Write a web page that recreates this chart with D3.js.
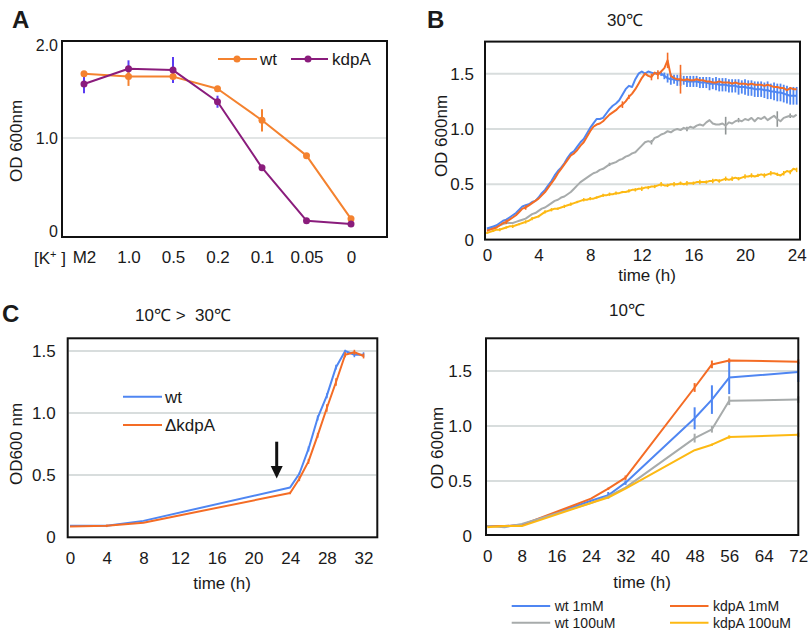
<!DOCTYPE html>
<html><head><meta charset="utf-8">
<script src="https://cdn.jsdelivr.net/npm/d3@7"></script>
<style>
body{margin:0;background:#fff;}
svg{font-family:"Liberation Sans",Arial,Helvetica,sans-serif;}
</style></head><body>
<svg id="c" width="810" height="630"></svg>
<script>
// ---------- Panel A data ----------
const aCats = ["M2","1.0","0.5","0.2","0.1","0.05","0"];
const aWt = [1.69, 1.66, 1.66, 1.53, 1.19, 0.81, 0.13];
const aWtSd = [0.0, 0.10, 0.0, 0.02, 0.12, 0.02, 0.02];
const aKdp = [1.58, 1.745, 1.73, 1.39, 0.68, 0.11, 0.075];
const aKdpSd = [0.10, 0.09, 0.14, 0.065, 0.02, 0.03, 0.03];
const aYTicks = [0, 1, 2];
const aYLabels = ["0", "1.0", "2.0"];

// ---------- Panel B data (30°C, every 15 min, 0–24 h) ----------
const bStep = 0.25;
const bWt1 = [0.10,0.11,0.12,0.13, 0.15,0.17,0.18,0.20, 0.22,0.24,0.27,0.30, 0.31,0.32,0.34,0.35,
  0.38,0.42,0.45,0.49, 0.53,0.58,0.62,0.65, 0.69,0.74,0.78,0.80, 0.84,0.88,0.91,0.96,
  1.01,1.05,1.09,1.09, 1.10,1.14,1.18,1.21, 1.23,1.26,1.31,1.36, 1.39,1.38,1.45,1.50,
  1.52,1.50,1.52,1.51, 1.50,1.51,1.50,1.48, 1.46,1.45,1.45,1.44, 1.44,1.44,1.43,1.43,
  1.43,1.43,1.42,1.42, 1.42,1.41,1.41,1.41, 1.40,1.40,1.40,1.39, 1.39,1.39,1.38,1.38,
  1.38,1.37,1.37,1.36, 1.36,1.36,1.35,1.35, 1.34,1.34,1.33,1.33, 1.32,1.31,1.30,1.30, 1.30];
const bWt1SdStart = 13.5;
const bWt1Sd = [0.02,0.03, 0.04,0.05,0.04,0.05, 0.05,0.04,0.05,0.05, 0.05,0.05,0.05,0.05,
  0.05,0.06,0.05,0.06, 0.06,0.06,0.06,0.06, 0.06,0.06,0.07,0.06, 0.07,0.07,0.07,0.07,
  0.07,0.07,0.07,0.08, 0.07,0.08,0.08,0.08, 0.08,0.08,0.08,0.08, 0.08];
const bKdp1 = [0.08,0.09,0.10,0.11, 0.13,0.15,0.16,0.18, 0.20,0.22,0.25,0.28, 0.29,0.31,0.33,0.35,
  0.37,0.40,0.43,0.47, 0.51,0.55,0.60,0.64, 0.68,0.72,0.76,0.78, 0.81,0.85,0.88,0.93,
  0.98,1.02,1.04,1.05, 1.07,1.10,1.13,1.15, 1.17,1.20,1.22,1.25, 1.29,1.32,1.36,1.41,
  1.46,1.50,1.48,1.47, 1.51,1.49,1.52,1.55, 1.62,1.48,1.46,1.45, 1.45,1.44,1.45,1.44,
  1.44,1.45,1.44,1.44, 1.43,1.43,1.42,1.42, 1.43,1.42,1.42,1.42, 1.41,1.42,1.41,1.41,
  1.41,1.40,1.41,1.40, 1.40,1.40,1.39,1.40, 1.39,1.38,1.38,1.37, 1.37,1.35,1.37,1.36, 1.36];
const bKdp1Sd = [[1.5,0.02],[3.0,0.02],[10.5,0.03],[11.0,0.02],[12.75,0.03],[13.25,0.04],[14.0,0.07],[15.0,0.13]];
const bWt100 = [0.09,0.10,0.11,0.12, 0.13,0.14,0.15,0.15, 0.15,0.16,0.17,0.18, 0.19,0.21,0.23,0.24,
  0.26,0.28,0.29,0.31, 0.33,0.35,0.36,0.38, 0.39,0.41,0.43,0.46, 0.49,0.52,0.54,0.56,
  0.58,0.60,0.61,0.63, 0.64,0.66,0.68,0.69, 0.70,0.72,0.73,0.75, 0.76,0.78,0.79,0.82,
  0.85,0.88,0.89,0.88, 0.92,0.93,0.95,0.96, 0.98,0.97,0.99,1.00, 0.99,1.01,1.00,1.02,
  1.01,1.03,1.04,1.03, 1.06,1.08,1.05,1.04, 1.04,1.05,1.03,1.06, 1.05,1.07,1.08,1.07,
  1.09,1.08,1.10,1.07, 1.10,1.09,1.11,1.08, 1.10,1.12,1.09,1.07, 1.10,1.11,1.12,1.11, 1.13];
const bWt100Sd = [[9.5,0.015],[12.75,0.02],[15.5,0.02],[18.5,0.08],[19.5,0.02],[22.5,0.07],[23.5,0.02]];
const bKdp100 = [0.06,0.07,0.08,0.09, 0.09,0.10,0.11,0.12, 0.12,0.13,0.14,0.15, 0.16,0.17,0.19,0.20,
  0.21,0.23,0.25,0.26, 0.27,0.28,0.28,0.29, 0.30,0.31,0.32,0.33, 0.34,0.35,0.36,0.36,
  0.37,0.37,0.38,0.39, 0.40,0.40,0.41,0.41, 0.42,0.42,0.43,0.43, 0.44,0.45,0.45,0.46,
  0.46,0.47,0.47,0.48, 0.48,0.49,0.50,0.49, 0.49,0.50,0.50,0.50, 0.51,0.50,0.51,0.51,
  0.51,0.52,0.52,0.52, 0.52,0.53,0.53,0.54, 0.53,0.54,0.55,0.54, 0.55,0.56,0.55,0.56,
  0.57,0.57,0.58,0.57, 0.58,0.59,0.58,0.59, 0.60,0.60,0.59,0.58, 0.60,0.62,0.61,0.64, 0.63];
// sd every 30 min
const bKdp100Sd = [0.01,0.01,0.015,0.01,0.015,0.01,0.015,0.015,0.01,0.015,0.015,0.01,0.015,0.015,0.01,0.015,
  0.015,0.01,0.015,0.015,0.015,0.01,0.015,0.015,0.02,0.015,0.015,0.02,0.015,0.02,0.015,0.02,
  0.015,0.02,0.015,0.02,0.015,0.02,0.02,0.015,0.02,0.02,0.015,0.02,0.02,0.015,0.02,0.02,0.02];
const bXTicks = [0,4,8,12,16,20,24];
const bYTicks = [0,0.5,1,1.5];
const bYLabels = ["0","0.5","1.0","1.5"];

// ---------- Panel C data (10°C > 30°C) ----------
const cTime = [0,4,8,24,25,26,27,28,29,30,31,32];
const cWt = [0.09,0.09,0.13,0.40,0.51,0.71,0.96,1.14,1.37,1.50,1.47,1.47];
const cWtSd = [0,0,0,0,0.01,0.02,0.02,0.02,0.02,0.01,0.02,0.02];
const cKdp = [0.085,0.09,0.115,0.355,0.47,0.61,0.82,1.04,1.25,1.47,1.49,1.46];
const cKdpSd = [0,0.01,0,0.01,0.02,0.02,0.02,0.03,0.03,0.02,0.02,0.02];
const cXTicks = [0,4,8,12,16,20,24,28,32];
const cYTicks = [0,0.5,1,1.5];
const cYLabels = ["0","0.5","1.0","1.5"];

// ---------- Panel D data (10°C) ----------
const dTime = [0,4,8,24,28,32,48,52,56,72];
const dWt1 = [0.09,0.09,0.10,0.32,0.37,0.485,1.07,1.24,1.44,1.49];
const dWt1Sd = [0,0,0,0,0.03,0.02,0.10,0.13,0.15,0.09];
const dKdp1 = [0.09,0.09,0.10,0.34,0.43,0.53,1.35,1.56,1.595,1.585];
const dKdp1Sd = [0,0,0,0,0.01,0.02,0.04,0.035,0.02,0.02];
const dWt100 = [0.09,0.08,0.11,0.30,0.36,0.44,0.89,0.97,1.23,1.24];
const dWt100Sd = [0,0,0,0,0,0,0.04,0.03,0.04,0.03];
const dKdp100 = [0.08,0.09,0.09,0.30,0.35,0.43,0.78,0.83,0.90,0.92];
const dKdp100Sd = [0,0,0,0,0,0,0,0.01,0.015,0.02];
const dXTicks = [0,8,16,24,32,40,48,56,64,72];
const dYTicks = [0,0.5,1,1.5];
const dYLabels = ["0","0.5","1.0","1.5"];

// ---------- colours ----------
const C_BLUE = "#4f86f2", C_ORANGE = "#f46c25", C_GRAY = "#a7abab", C_YELLOW = "#fdb913";
const A_ORANGE = "#f4822f", A_PURPLE = "#8a1c7c", A_ERRBLUE = "#5a3cf2";
const GRID = "#d8dddd";
const FONT = '"Liberation Sans", Arial, Helvetica, sans-serif';

const svg = d3.select("#c");

function frame(g, x0, y0, x1, y1) {
  g.append("rect").attr("x", x0).attr("y", y0).attr("width", x1 - x0).attr("height", y1 - y0)
    .attr("fill", "none").attr("stroke", "#111").attr("stroke-width", 2);
}
function grid(g, y, vals, x0, x1, w) {
  g.selectAll(null).data(vals).enter().append("line")
    .attr("x1", x0).attr("x2", x1).attr("y1", d => y(d)).attr("y2", d => y(d))
    .attr("stroke", GRID).attr("stroke-width", w || 2);
}
function yAxis(g, scale, x, vals, labels, size, pad) {
  const a = g.append("g").attr("transform", `translate(${x},0)`)
    .call(d3.axisLeft(scale).tickValues(vals).tickSize(0).tickPadding(pad).tickFormat((d, i) => labels[i]));
  a.attr("font-family", FONT).attr("font-size", size);
  a.select(".domain").remove();
  a.selectAll("text").attr("fill", "#1a1a1a");
  return a;
}
function xAxis(g, scale, y, vals, size, pad, fmt) {
  const ax = d3.axisBottom(scale).tickSize(0).tickPadding(pad);
  if (vals) ax.tickValues(vals);
  if (fmt) ax.tickFormat(fmt);
  const a = g.append("g").attr("transform", `translate(0,${y})`).call(ax);
  a.attr("font-family", FONT).attr("font-size", size);
  a.select(".domain").remove();
  a.selectAll("text").attr("fill", "#1a1a1a");
  return a;
}
function text(g, x, y, s, size, opts) {
  opts = opts || {};
  const t = g.append("text").attr("x", x).attr("y", y).attr("font-size", size)
    .attr("fill", opts.fill || "#1a1a1a").attr("text-anchor", opts.anchor || "middle")
    .attr("font-weight", opts.bold ? "bold" : null).style("white-space", "pre").text(s);
  if (opts.rotate) t.attr("transform", `rotate(-90,${x},${y})`);
  return t;
}
function errBars(g, pts, x, y, color, w) {
  g.selectAll(null).data(pts.filter(p => p.sd > 0)).enter().append("line")
    .attr("x1", p => x(p.t)).attr("x2", p => x(p.t))
    .attr("y1", p => y(p.v - p.sd)).attr("y2", p => y(p.v + p.sd))
    .attr("stroke", color).attr("stroke-width", w || 1.6);
}
function path(g, pts, x, y, color, w) {
  g.append("path").datum(pts)
    .attr("d", d3.line().x(p => x(p.t)).y(p => y(p.v)))
    .attr("fill", "none").attr("stroke", color).attr("stroke-width", w || 2)
    .attr("stroke-linejoin", "round");
}

// ================= Panel A =================
{
  const g = svg.append("g");
  const x = d3.scalePoint().domain(aCats).range([84, 351]);
  const y = d3.scaleLinear().domain([-0.065, 2.043]).range([237, 41]);
  grid(g, y, [1], 63, 386, 1.5);
  yAxis(g, y, 62, aYTicks, aYLabels, 16, 4);
  xAxis(g, x, 237, null, 17, 14);
  const t = text(g, 66, 264, "", 17, { anchor: "end" });
  t.append("tspan").text("[K");
  t.append("tspan").attr("font-size", 11).attr("dy", -6).text("+");
  t.append("tspan").attr("dy", 6).text(" ]");
  const wt = aCats.map((c, i) => ({ t: c, v: aWt[i], sd: aWtSd[i] }));
  const kd = aCats.map((c, i) => ({ t: c, v: aKdp[i], sd: aKdpSd[i] }));
  errBars(g, kd, x, y, A_ERRBLUE, 2);
  errBars(g, wt, x, y, A_ORANGE, 2);
  path(g, wt, x, y, A_ORANGE, 2);
  path(g, kd, x, y, A_PURPLE, 2);
  g.selectAll(null).data(wt).enter().append("circle").attr("cx", p => x(p.t)).attr("cy", p => y(p.v)).attr("r", 3.5).attr("fill", A_ORANGE);
  g.selectAll(null).data(kd).enter().append("circle").attr("cx", p => x(p.t)).attr("cy", p => y(p.v)).attr("r", 3.5).attr("fill", A_PURPLE);
  frame(g, 62, 41, 387, 237);
  // legend
  g.append("line").attr("x1", 218).attr("x2", 257).attr("y1", 59).attr("y2", 59).attr("stroke", A_ORANGE).attr("stroke-width", 2);
  g.append("circle").attr("cx", 237).attr("cy", 59).attr("r", 3.5).attr("fill", A_ORANGE);
  text(g, 260, 65, "wt", 17, { anchor: "start" });
  g.append("line").attr("x1", 291).attr("x2", 328).attr("y1", 59).attr("y2", 59).attr("stroke", A_PURPLE).attr("stroke-width", 2);
  g.append("circle").attr("cx", 308).attr("cy", 59).attr("r", 3.5).attr("fill", A_PURPLE);
  text(g, 332, 65, "kdpA", 17, { anchor: "start" });
  text(g, 16, 141, "OD 600nm", 17, { rotate: true, anchor: "middle" }).attr("dy", "0.35em");
  text(g, 12, 28, "A", 24, { anchor: "start", bold: true });
}

// ================= Panel B =================
{
  const g = svg.append("g");
  const x = d3.scaleLinear().domain([-0.15, 24.26]).range([485, 800]);
  const y = d3.scaleLinear().domain([0, 1.79]).range([239.6, 41.6]);
  grid(g, y, [0.5, 1, 1.5], 486, 799, 2);
  yAxis(g, y, 485, bYTicks, bYLabels, 17, 11);
  xAxis(g, x, 239.5, bXTicks, 17, 9);
  const mk = (arr) => arr.map((v, i) => ({ t: i * bStep, v: v, sd: 0 }));
  const wt1 = mk(bWt1), kd1 = mk(bKdp1), wt100 = mk(bWt100), kd100 = mk(bKdp100);
  const startIdx = Math.round(bWt1SdStart / bStep);
  bWt1Sd.forEach((s, i) => { wt1[startIdx + i].sd = s; });
  bKdp1Sd.forEach(([t, s]) => { kd1[Math.round(t / bStep)].sd = s; });
  bWt100Sd.forEach(([t, s]) => { wt100[Math.round(t / bStep)].sd = s; });
  bKdp100Sd.forEach((s, i) => { kd100[i * 2].sd = s; });
  errBars(g, kd100, x, y, C_YELLOW, 1.5);
  path(g, kd100, x, y, C_YELLOW, 2);
  errBars(g, wt100, x, y, "#8f9494", 1.6);
  path(g, wt100, x, y, C_GRAY, 2);
  errBars(g, wt1, x, y, C_BLUE, 1.8);
  path(g, wt1, x, y, C_BLUE, 2);
  errBars(g, kd1, x, y, C_ORANGE, 1.6);
  path(g, kd1, x, y, C_ORANGE, 2);
  frame(g, 485, 41.6, 800, 239.6);
  text(g, 625, 26, "30℃", 17);
  text(g, 427, 28, "B", 24, { anchor: "start", bold: true });
  text(g, 441, 136, "OD 600nm", 17, { rotate: true }).attr("dy", "0.35em");
  text(g, 647, 281, "time (h)", 17);
}

// ================= Panel C =================
{
  const g = svg.append("g");
  const x = d3.scaleLinear().domain([-0.25, 33.5]).range([67.7, 377.3]);
  const y = d3.scaleLinear().domain([0, 1.605]).range([537, 338]);
  grid(g, y, [0.5, 1, 1.5], 68.7, 376.3, 2);
  yAxis(g, y, 67.7, cYTicks, cYLabels, 17, 12);
  xAxis(g, x, 537, cXTicks, 17, 15);
  const wt = cTime.map((t, i) => ({ t: t, v: cWt[i], sd: cWtSd[i] }));
  const kd = cTime.map((t, i) => ({ t: t, v: cKdp[i], sd: cKdpSd[i] }));
  errBars(g, wt, x, y, C_BLUE, 1.6);
  path(g, wt, x, y, C_BLUE, 2);
  errBars(g, kd, x, y, C_ORANGE, 1.6);
  path(g, kd, x, y, C_ORANGE, 2);
  frame(g, 67.7, 338.3, 377.3, 537.3);
  // legend
  g.append("line").attr("x1", 123).attr("x2", 162).attr("y1", 396.7).attr("y2", 396.7).attr("stroke", C_BLUE).attr("stroke-width", 2);
  text(g, 165, 402.5, "wt", 17, { anchor: "start" });
  g.append("line").attr("x1", 123).attr("x2", 162).attr("y1", 425).attr("y2", 425).attr("stroke", C_ORANGE).attr("stroke-width", 2);
  text(g, 165, 431, "ΔkdpA", 17, { anchor: "start" });
  // arrow
  g.append("line").attr("x1", 276.7).attr("x2", 276.7).attr("y1", 441.7).attr("y2", 468).attr("stroke", "#111").attr("stroke-width", 3);
  g.append("path").attr("d", "M270.7,466 L282.7,466 L276.7,478.5 Z").attr("fill", "#111");
  text(g, 183, 321, "10℃ >  30℃", 17);
  text(g, 2, 322, "C", 24, { anchor: "start", bold: true });
  text(g, 16, 444, "OD600 nm", 17, { rotate: true }).attr("dy", "0.35em");
  text(g, 222, 589, "time (h)", 17);
}

// ================= Panel D =================
{
  const g = svg.append("g");
  const x = d3.scaleLinear().domain([0, 72]).range([487.3, 798.3]);
  const y = d3.scaleLinear().domain([0, 1.8]).range([536, 338]);
  grid(g, y, [0.5, 1, 1.5], 487, 797.3, 2);
  yAxis(g, y, 486, dYTicks, dYLabels, 17, 14);
  xAxis(g, x, 535, dXTicks, 17, 15);
  const mk = (vals, sds) => dTime.map((t, i) => ({ t: t, v: vals[i], sd: sds[i] }));
  const series = [
    [mk(dWt1, dWt1Sd), C_BLUE],
    [mk(dKdp1, dKdp1Sd), C_ORANGE],
    [mk(dWt100, dWt100Sd), C_GRAY],
    [mk(dKdp100, dKdp100Sd), C_YELLOW]
  ];
  series.forEach(([pts, col]) => { path(g, pts, x, y, col, 2); errBars(g, pts, x, y, col, 2); });
  frame(g, 486, 338.3, 798.3, 535);
  text(g, 627, 316, "10℃", 17);
  text(g, 437, 448, "OD 600nm", 17, { rotate: true }).attr("dy", "0.35em");
  text(g, 642, 588, "time (h)", 17);
  // legend
  const leg = [
    ["wt 1mM", C_BLUE, 511.7, 606], ["wt 100uM", C_GRAY, 511.7, 622.7],
    ["kdpA 1mM", C_ORANGE, 670, 606], ["kdpA 100uM", C_YELLOW, 670, 622.7]
  ];
  leg.forEach(([s, col, lx, ly]) => {
    g.append("line").attr("x1", lx).attr("x2", lx + 38.5).attr("y1", ly).attr("y2", ly).attr("stroke", col).attr("stroke-width", 2);
    text(g, lx + 43, ly + 5, s, 14, { anchor: "start" });
  });
}
</script></body></html>
